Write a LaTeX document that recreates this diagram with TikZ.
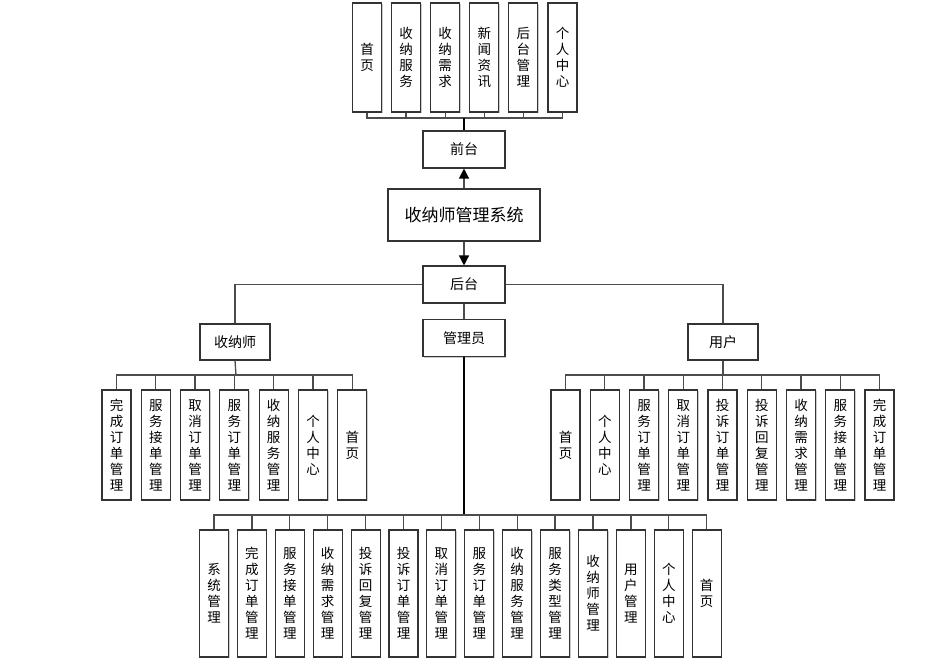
\documentclass[tikz,border=0pt]{standalone}
\usepackage{fontspec}
\newfontfamily\cjk{Noto Sans CJK SC}
\usetikzlibrary{arrows.meta,shadows}

\tikzset{
  box/.style={draw=black!80,line width=1.1pt,fill=white,inner sep=0pt,
    font=\cjk\fontsize{14}{16}\selectfont,
    drop shadow={shadow xshift=1pt,shadow yshift=-1pt,fill=black!20,opacity=1}},
  hbox/.style={box,minimum width=82pt,minimum height=37pt},
  vbox/.style={box,minimum width=29pt,align=center,
    font=\cjk\fontsize{13.5}{16}\selectfont},
  bus/.style={draw=black!70,line width=1.3pt},
  arr/.style={bus,-{Triangle[width=10pt,length=10pt,color=black]}}
}

\begin{document}
\begin{tikzpicture}[x=1pt,y=-1pt]
\useasboundingbox (0,0) rectangle (941,670);

%main boxes
\node[box,minimum width=152pt,minimum height=52pt,font=\cjk\fontsize{17}{20}\selectfont] (sys) at (464,215) {收纳师管理系统};
\node[hbox] (qt) at (464,149.5) {前台};
\node[hbox] (ht) at (464,284.5) {后台};
\node[hbox] (gly) at (464,338) {管理员};
\node[hbox,minimum width=70pt,minimum height=36pt] (sj) at (235,342) {收纳师};
\node[hbox,minimum width=70pt,minimum height=36pt] (yh) at (723,342) {用户};

%bus points
\coordinate (topbus) at (464,118);
\coordinate (sjbus) at (236,375);
\coordinate (yhbus) at (723,375);
\coordinate (glbus) at (464,515);

%front pages
\foreach \lab [count=\i] in {{首\\页},{收\\纳\\服\\务},{收\\纳\\需\\求},{新\\闻\\资\\讯},{后\\台\\管\\理},{个\\人\\中\\心}}
  \node[vbox,minimum height=109pt] (fg\i) at ({367+39.1*(\i-1)},57.5) {\lab};

%storage staff
\foreach \lab [count=\i] in {{完\\成\\订\\单\\管\\理},{服\\务\\接\\单\\管\\理},{取\\消\\订\\单\\管\\理},{服\\务\\订\\单\\管\\理},{收\\纳\\服\\务\\管\\理},{个\\人\\中\\心},{首\\页}}
  \node[vbox,minimum height=110pt] (sj\i) at ({116.5+39.3*(\i-1)},445) {\lab};

%users
\foreach \lab [count=\i] in {{首\\页},{个\\人\\中\\心},{服\\务\\订\\单\\管\\理},{取\\消\\订\\单\\管\\理},{投\\诉\\订\\单\\管\\理},{投\\诉\\回\\复\\管\\理},{收\\纳\\需\\求\\管\\理},{服\\务\\接\\单\\管\\理},{完\\成\\订\\单\\管\\理}}
  \node[vbox,minimum height=110pt] (yh\i) at ({565.5+39.25*(\i-1)},445) {\lab};

%admin
\foreach \lab [count=\i] in {{系\\统\\管\\理},{完\\成\\订\\单\\管\\理},{服\\务\\接\\单\\管\\理},{收\\纳\\需\\求\\管\\理},{投\\诉\\回\\复\\管\\理},{投\\诉\\订\\单\\管\\理},{取\\消\\订\\单\\管\\理},{服\\务\\订\\单\\管\\理},{收\\纳\\服\\务\\管\\理},{服\\务\\类\\型\\管\\理},{收\\纳\\师\\管\\理},{用\\户\\管\\理},{个\\人\\中\\心},{首\\页}}
  \node[vbox,minimum height=127pt] (gl\i) at ({214+37.9*(\i-1)},593.5) {\lab};

%connectors
\foreach \i in {1,...,6} \draw[bus] (fg\i.south) |- (topbus);
\draw[bus,line width=2.2pt,draw=black] (topbus) -- (qt.north);
\draw[arr] (sys.north) -- (qt.south);
\draw[arr] (sys.south) -- (ht.north);
\draw[bus] (ht.west) -| (sj.north);
\draw[bus] (ht.east) -| (yh.north);
\draw[bus] (ht.south) -- (gly.north);

\draw[bus] (sj.south) -- (sjbus);
\foreach \i in {1,...,7} \draw[bus] (sjbus) -| (sj\i.north);
\draw[bus] (yh.south) -- (yhbus);
\foreach \i in {1,...,9} \draw[bus] (yhbus) -| (yh\i.north);
\draw[bus,line width=2.4pt,draw=black] (gly.south) -- (glbus);
\foreach \i in {1,...,14} \draw[bus] (glbus) -| (gl\i.north);
\end{tikzpicture}
\end{document}
